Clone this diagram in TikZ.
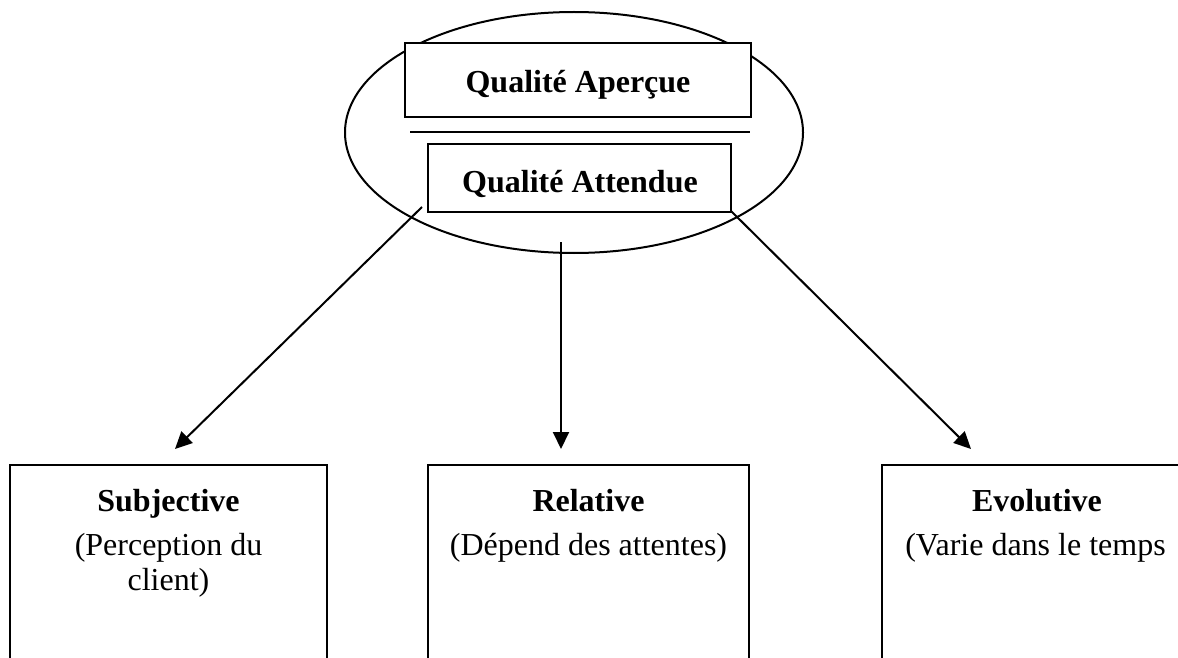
\documentclass[tikz,border=0pt]{standalone}
\usepackage{fontspec}
\setmainfont{Liberation Serif}
\usetikzlibrary{shapes.geometric,arrows.meta}
\begin{document}
\begin{tikzpicture}[x=0.5pt,y=-0.5pt,
  box/.style={draw,line width=1pt,rectangle,inner sep=0pt},
  txt/.style={inner sep=0pt,anchor=base,font=\fontsize{16}{17.5}\selectfont},
  btxt/.style={txt,font=\fontsize{16}{17.5}\selectfont\bfseries},
  arr/.style={line width=1pt,-{Triangle[length=8.5pt,width=8pt]}}]
\clip (0,0) rectangle (1178,658);
\fill[white] (0,0) rectangle (1178,658);
% ellipse and top boxes
\node[draw,ellipse,line width=1pt,minimum width=229pt,minimum height=120.5pt,inner sep=0pt] (ell) at (574,132.5) {};
\node[box,fill=white,minimum width=173pt,minimum height=37pt] (ap) at (578,80) {};
\node[btxt] (apt) at (578,93) {Qualité Aperçue};
\coordinate (dl) at (410,132);
\coordinate (dr) at (750,132);
\draw[line width=1pt] (dl) -- (dr);
\node[box,fill=white,minimum width=151.5pt,minimum height=34pt] (at) at (579.5,178) {};
\node[btxt] (att) at (580,192) {Qualité Attendue};
% bottom boxes
\node[box,minimum width=158.5pt,minimum height=150pt] (b1) at (168.5,615) {};
\node[box,minimum width=160.5pt,minimum height=150pt] (b2) at (588.5,615) {};
\node[box,minimum width=155pt,minimum height=150pt] (b3) at (1037,615) {};
\node[btxt] (b1a) at (168.5,511) {Subjective};
\node[txt] (b1b) at (168.5,555) {(Perception du};
\node[txt] (b1c) at (168.5,590) {client)};
\node[btxt] (b2a) at (588.5,511) {Relative};
\node[txt] (b2b) at (588.5,555) {(Dépend des attentes)};
\node[btxt] (b3a) at (1037,511) {Evolutive};
\node[txt] (b3b) at (1035.5,555) {(Varie dans le temps};
% arrows
\coordinate (s1) at (422,207);
\coordinate (e1) at (175,449);
\coordinate (s2) at (561,242);
\coordinate (e2) at (561,449);
\coordinate (s3) at (731,211);
\coordinate (e3) at (971,449);
\draw[arr] (s1) -- (e1);
\draw[arr] (s2) -- (e2);
\draw[arr] (s3) -- (e3);
\end{tikzpicture}
\end{document}
